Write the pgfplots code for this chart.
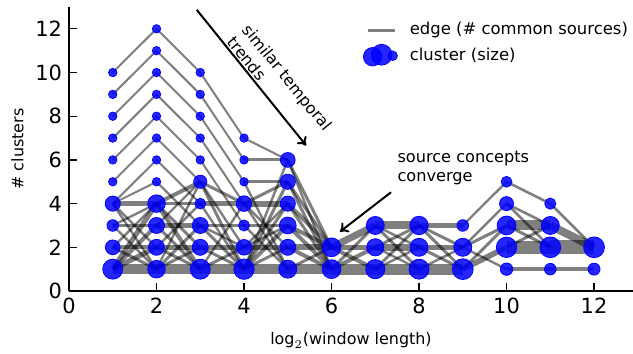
\documentclass[border=0pt]{standalone}
\usepackage{fontspec}
\setmainfont{DejaVu Sans}
\usepackage{pgfplots}
\pgfplotsset{compat=1.18}
\usetikzlibrary{arrows.meta}
\newcommand\E[5]{\addplot[forget plot, draw=black, draw opacity=0.5, line width=#5bp] coordinates {(#1,#2) (#3,#4)};}
\newcommand\N[3]{\addplot[forget plot, color=blue, only marks, mark=*, mark size=#3bp, mark options={draw=none, fill=blue, fill opacity=0.85}] coordinates {(#1,#2)};}
\begin{document}
\begin{tikzpicture}
\begin{axis}[
 scale only axis, width=282bp, height=142bp,
 xmin=0, xmax=12.89, ymin=0, ymax=13,
 axis x line*=bottom, axis y line*=left,
 xtick={0,2,...,12}, ytick={0,2,...,12},
 tick align=inside, major tick length=4bp,
 axis line style={line width=1bp, black},
 tick style={line width=0.6bp, black},
 ticklabel style={font=\fontsize{10.5}{12}\selectfont},
 /pgf/number format/assume math mode=true,
 xlabel={$\log_2$(window length)}, ylabel={\# clusters},
 label style={font=\fontsize{8}{9.6}\selectfont},
 xlabel style={yshift=-2.5bp},
 ylabel style={yshift=-1bp},
 clip=false,
 legend cell align=left,
 legend style={draw=none, fill=none, at={(0.51,0.975)}, anchor=north west, font=\fontsize{8.25}{9.9}\selectfont, row sep=1bp, /tikz/every odd column/.append style={column sep=4bp}},
]
\addlegendimage{legend image code/.code={\draw[black, draw opacity=0.5, line width=1.4bp] (0bp,0bp) -- (13.5bp,0bp);}}
\addlegendentry{edge (\# common sources)}
\addlegendimage{legend image code/.code={\fill[blue, fill opacity=0.85] (2.5bp,-0.5bp) circle (4.6bp); \fill[blue, fill opacity=0.85] (7bp,0.5bp) circle (5.2bp); \fill[blue, fill opacity=0.85] (12.5bp,0bp) circle (2.4bp);}}
\addlegendentry{cluster (size)}
% x1 -> x2
\E{1}{10}{2}{12}{1}
\E{1}{9}{2}{11}{1}
\E{1}{8}{2}{10}{1}
\E{1}{7}{2}{9}{1}
\E{1}{6}{2}{8}{1}
\E{1}{5}{2}{7}{1}
\E{1}{4}{2}{6}{1}
\E{1}{4}{2}{5}{1}
\E{1}{4}{2}{4}{2.5}
\E{1}{4}{2}{2}{1.2}
\E{1}{4}{2}{1}{1.2}
\E{1}{3}{2}{3}{1.5}
\E{1}{3}{2}{4}{1.2}
\E{1}{3}{2}{1}{1.2}
\E{1}{2}{2}{2}{2}
\E{1}{2}{2}{4}{1.2}
\E{1}{2}{2}{1}{1.5}
\E{1}{1}{2}{1}{5}
\E{1}{1}{2}{2}{2.5}
\E{1}{1}{2}{3}{2}
\E{1}{1}{2}{4}{2.5}
% x2 -> x3
\E{2}{12}{3}{10}{1}
\E{2}{11}{3}{9}{1}
\E{2}{10}{3}{8}{1}
\E{2}{9}{3}{7}{1}
\E{2}{8}{3}{6}{1}
\E{2}{7}{3}{5}{1}
\E{2}{6}{3}{4}{1}
\E{2}{5}{3}{3}{1.2}
\E{2}{4}{3}{5}{2}
\E{2}{4}{3}{4}{1.5}
\E{2}{4}{3}{2}{1.5}
\E{2}{4}{3}{1}{2}
\E{2}{3}{3}{3}{2.5}
\E{2}{3}{3}{5}{1.2}
\E{2}{3}{3}{1}{1.5}
\E{2}{2}{3}{2}{2.5}
\E{2}{2}{3}{1}{1.5}
\E{2}{2}{3}{4}{1.2}
\E{2}{1}{3}{1}{5}
\E{2}{1}{3}{2}{1.5}
\E{2}{1}{3}{3}{1.5}
\E{2}{1}{3}{5}{1.2}
% x3 -> x4
\E{3}{10}{4}{7}{1}
\E{3}{9}{4}{6}{1}
\E{3}{8}{4}{5}{1}
\E{3}{7}{4}{4}{1}
\E{3}{6}{4}{3}{1}
\E{3}{5}{4}{4}{1.5}
\E{3}{5}{4}{2}{1.2}
\E{3}{5}{4}{1}{1.5}
\E{3}{4}{4}{4}{2.5}
\E{3}{4}{4}{1}{1.2}
\E{3}{3}{4}{3}{1.5}
\E{3}{3}{4}{1}{1.5}
\E{3}{3}{4}{2}{1.2}
\E{3}{2}{4}{2}{2.5}
\E{3}{2}{4}{1}{1.5}
\E{3}{1}{4}{1}{5}
\E{3}{1}{4}{2}{1.5}
\E{3}{1}{4}{4}{1.2}
% x4 -> x5
\E{4}{7}{5}{6}{1}
\E{4}{6}{5}{6}{1.5}
\E{4}{5}{5}{5}{1.5}
\E{4}{5}{5}{1}{1.2}
\E{4}{4}{5}{4}{3}
\E{4}{4}{5}{5}{1.5}
\E{4}{4}{5}{2}{1.2}
\E{4}{4}{5}{1}{1.2}
\E{4}{3}{5}{3}{1.2}
\E{4}{3}{5}{1}{1.2}
\E{4}{2}{5}{2}{2.5}
\E{4}{2}{5}{4}{1.2}
\E{4}{2}{5}{3}{1.2}
\E{4}{1}{5}{1}{5}
\E{4}{1}{5}{2}{1.5}
\E{4}{1}{5}{3}{2}
\E{4}{1}{5}{4}{1.5}
\E{4}{1}{5}{5}{1.5}
\E{4}{1}{5}{6}{1.2}
% x5 -> x6
\E{5}{6}{6}{2}{1.5}
\E{5}{6}{6}{1}{1.2}
\E{5}{5}{6}{2}{1.5}
\E{5}{5}{6}{1}{1.5}
\E{5}{4}{6}{2}{2}
\E{5}{4}{6}{1}{1.5}
\E{5}{3}{6}{2}{2}
\E{5}{3}{6}{1}{2}
\E{5}{2}{6}{2}{3}
\E{5}{2}{6}{1}{2}
\E{5}{1}{6}{1}{5}
\E{5}{1}{6}{2}{1.5}
% x6 -> x7
\E{6}{2}{7}{3}{3.5}
\E{6}{2}{7}{2}{2.5}
\E{6}{2}{7}{1}{2}
\E{6}{1}{7}{1}{5.5}
\E{6}{1}{7}{2}{2}
\E{6}{1}{7}{3}{1.5}
% x7 -> x8
\E{7}{3}{8}{3}{4}
\E{7}{3}{8}{2}{1.2}
\E{7}{3}{8}{1}{1.5}
\E{7}{2}{8}{2}{3.3}
\E{7}{2}{8}{3}{1.5}
\E{7}{2}{8}{1}{1.2}
\E{7}{1}{8}{1}{5.5}
\E{7}{1}{8}{3}{1.5}
\E{7}{1}{8}{2}{1.2}
% x8 -> x9
\E{8}{3}{9}{3}{2.2}
\E{8}{3}{9}{2}{1.5}
\E{8}{3}{9}{1}{1.5}
\E{8}{2}{9}{2}{2.5}
\E{8}{2}{9}{1}{1.5}
\E{8}{1}{9}{1}{5.5}
\E{8}{1}{9}{2}{1.2}
% x9 -> x10
\E{9}{3}{10}{5}{1.2}
\E{9}{2}{10}{4}{1.2}
\E{9}{2}{10}{3}{1.5}
\E{9}{2}{10}{1}{1.2}
\E{9}{1}{10}{2}{2.8}
\E{9}{1}{10}{3}{1.5}
% x10 -> x11
\E{10}{5}{11}{4}{1.3}
\E{10}{4}{11}{3}{1.3}
\E{10}{4}{11}{2}{1.3}
\E{10}{3}{11}{3}{5}
\E{10}{3}{11}{2}{1.5}
\E{10}{2}{11}{2}{6.5}
\E{10}{2}{11}{3}{1.5}
\E{10}{1}{11}{1}{2}
% x11 -> x12
\E{11}{4}{12}{2}{1.3}
\E{11}{3}{12}{2}{4}
\E{11}{2}{12}{2}{7}
\E{11}{1}{12}{1}{2}
% nodes
\N{1}{1}{5.0}\N{1}{2}{3.7}\N{1}{3}{2.9}\N{1}{4}{3.8}
\N{1}{5}{2.1}\N{1}{6}{2.1}\N{1}{7}{2.1}\N{1}{8}{2.1}\N{1}{9}{2.1}\N{1}{10}{2.1}
\N{2}{1}{4.4}\N{2}{2}{4.0}\N{2}{3}{4.0}\N{2}{4}{4.4}
\N{2}{5}{2.1}\N{2}{6}{2.1}\N{2}{7}{2.1}\N{2}{8}{2.1}\N{2}{9}{2.1}\N{2}{10}{2.1}\N{2}{11}{2.1}\N{2}{12}{2.1}
\N{3}{1}{5.0}\N{3}{2}{4.0}\N{3}{3}{4.0}\N{3}{4}{2.7}\N{3}{5}{3.3}
\N{3}{6}{2.1}\N{3}{7}{2.1}\N{3}{8}{2.1}\N{3}{9}{2.1}\N{3}{10}{2.1}
\N{4}{1}{5.1}\N{4}{2}{3.9}\N{4}{3}{2.75}\N{4}{4}{3.9}\N{4}{5}{2.1}\N{4}{6}{2.1}\N{4}{7}{2.1}
\N{5}{1}{4.5}\N{5}{2}{4.0}\N{5}{3}{4.2}\N{5}{4}{3.8}\N{5}{5}{3.8}\N{5}{6}{3.7}
\N{6}{1}{4.7}\N{6}{2}{4.7}
\N{7}{1}{4.8}\N{7}{2}{4.3}\N{7}{3}{4.5}
\N{8}{1}{5.0}\N{8}{2}{4.5}\N{8}{3}{4.6}
\N{9}{1}{5.2}\N{9}{2}{4.5}\N{9}{3}{2.9}
\N{10}{1}{3.1}\N{10}{2}{5.1}\N{10}{3}{4.7}\N{10}{4}{3.5}\N{10}{5}{2.7}
\N{11}{1}{2.9}\N{11}{2}{5.2}\N{11}{3}{4.5}\N{11}{4}{2.8}
\N{12}{1}{3.0}\N{12}{2}{5.2}
% annotations
\draw[line width=1bp, -{To[length=4bp,width=6bp]}] (axis cs:2.92,12.87) -- (axis cs:5.42,6.66);
\node[rotate=-51, align=left, inner sep=0pt, font=\fontsize{8}{10}\selectfont] at (axis cs:4.82,9.5) {similar temporal\\trends};
\draw[line width=1bp, -{To[length=4bp,width=6bp]}] (axis cs:7.36,4.52) -- (axis cs:6.19,2.71);
\node[anchor=west, align=left, inner sep=0pt, font=\fontsize{8.1}{9.6}\selectfont] at (axis cs:7.50,5.61) {source concepts\\converge};
\coordinate (BL) at (rel axis cs:0,0);
\coordinate (TR) at (rel axis cs:1,1);
\end{axis}
\pgfresetboundingbox
\path ([xshift=-34.5bp,yshift=-31.5bp]BL) rectangle ([yshift=3.5bp]TR);
\end{tikzpicture}
\end{document}
